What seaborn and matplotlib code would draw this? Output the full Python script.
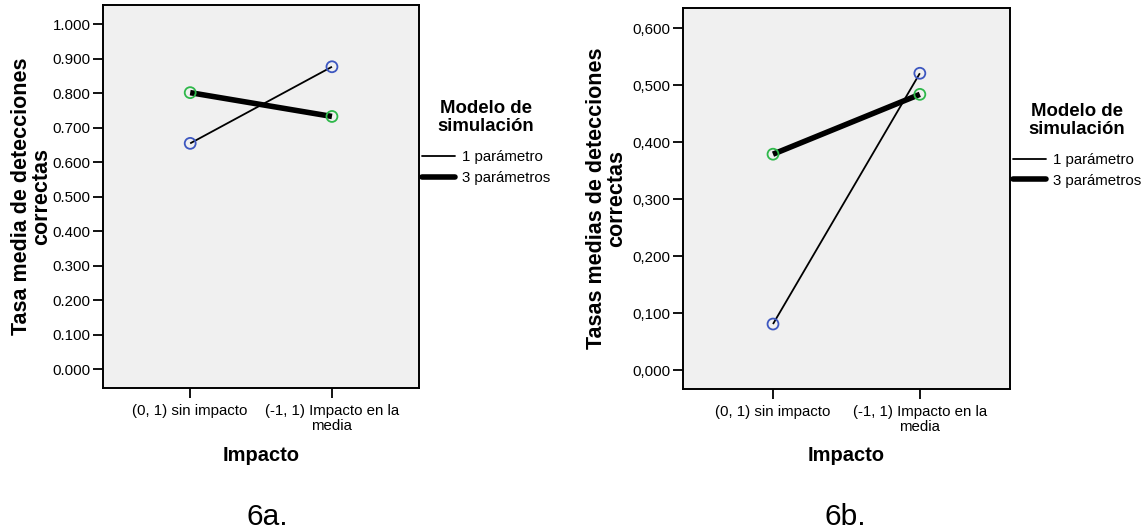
import matplotlib
matplotlib.use("Agg")
import matplotlib.pyplot as plt
from matplotlib.lines import Line2D
import numpy as np
import pandas as pd
import seaborn as sns

sns.set_theme(style="white")
plt.rcParams["font.family"] = ["Liberation Sans", "DejaVu Sans"]
plt.rcParams["text.color"] = "black"
plt.rcParams["axes.labelcolor"] = "black"
plt.rcParams["xtick.color"] = "black"
plt.rcParams["ytick.color"] = "black"

# Data
impacto_labels = ["(0, 1) sin impacto", "(-1, 1) Impacto en la\nmedia"]
modelos = ["1 parámetro", "3 parámetros"]

tasa_6a_1p = [0.655, 0.877]
tasa_6a_3p = [0.802, 0.733]

tasa_6b_1p = [0.081, 0.521]
tasa_6b_3p = [0.379, 0.484]

yticks_6a = [0.0, 0.1, 0.2, 0.3, 0.4, 0.5, 0.6, 0.7, 0.8, 0.9, 1.0]
ytick_labels_6a = ["0.000", "0.100", "0.200", "0.300", "0.400", "0.500",
                   "0.600", "0.700", "0.800", "0.900", "1.000"]
yticks_6b = [0.0, 0.1, 0.2, 0.3, 0.4, 0.5, 0.6]
ytick_labels_6b = ["0,000", "0,100", "0,200", "0,300", "0,400", "0,500", "0,600"]

line_widths = {"1 parámetro": 1.3, "3 parámetros": 4.0}
marker_colors = {"1 parámetro": "#3d57c0", "3 parámetros": "#2eb84a"}

BG = "#f0f0f0"
TICK_FS = 10.8


def draw_panel(ax, s1, s3, yticks, yticklabels, ylim, ylabel, ylabel_x):
    df = pd.DataFrame({
        "Impacto": list(range(len(impacto_labels))) * 2,
        "Tasa": s1 + s3,
        "Modelo": [modelos[0]] * len(s1) + [modelos[1]] * len(s3),
    })
    for m in modelos:
        sub = df[df["Modelo"] == m]
        sns.lineplot(data=sub, x="Impacto", y="Tasa", color="black",
                     linewidth=line_widths[m], ax=ax, legend=False,
                     solid_capstyle="butt", zorder=2)
        ax.scatter(sub["Impacto"], sub["Tasa"], s=62, facecolors="none",
                   edgecolors=marker_colors[m], linewidths=1.3, zorder=3)

    ax.set_facecolor(BG)
    ax.set_xlim(-0.615, 1.614)
    ax.set_ylim(*ylim)
    ax.set_xticks(range(len(impacto_labels)))
    ax.set_xticklabels(impacto_labels, fontsize=TICK_FS, linespacing=1.05)
    ax.set_yticks(yticks)
    ax.set_yticklabels(yticklabels, fontsize=TICK_FS)
    ax.tick_params(axis="both", direction="out", length=7, width=1.3,
                   color="black", labelcolor="black", pad=2,
                   left=True, bottom=True)
    ax.tick_params(axis="x", pad=4.5)
    for sp in ax.spines.values():
        sp.set_visible(True)
        sp.set_color("black")
        sp.set_linewidth(1.4)

    ax.set_xlabel("Impacto", fontsize=14.5, fontweight="bold")
    ax.xaxis.set_label_coords(0.5, -0.175)
    ax.xaxis.label.set_va("center")
    ax.set_ylabel(ylabel, fontsize=15.5, fontweight="bold", linespacing=0.92)
    ax.yaxis.set_label_coords(ylabel_x, 0.5)
    ax.yaxis.label.set_va("center")

    handles = [Line2D([], [], color="black", linewidth=line_widths[m]) for m in modelos]
    leg = ax.legend(handles, modelos, title="Modelo de\nsimulación",
                    loc="upper left", bbox_to_anchor=(1.0, 0.76),
                    frameon=False, fontsize=TICK_FS, title_fontsize=13.4,
                    handlelength=2.2, handletextpad=0.45, labelspacing=0.42,
                    borderaxespad=0.2, borderpad=0.0)
    leg.get_title().set_fontweight("bold")
    leg.get_title().set_multialignment("center")
    leg.get_title().set_linespacing(1.1)
    leg._legend_box.align = "center"
    leg._legend_box.sep = 11


fig = plt.figure(figsize=(11.48, 5.29), dpi=100)
ax1 = fig.add_axes([103 / 1148, 1 - 388 / 529, 316 / 1148, 383 / 529])
ax2 = fig.add_axes([682.7 / 1148, 1 - 389 / 529, 327.3 / 1148, 380.7 / 529])

draw_panel(ax1, tasa_6a_1p, tasa_6a_3p, yticks_6a, ytick_labels_6a,
           (-0.054, 1.056), "Tasa media de detecciones\ncorrectas", -0.226)
draw_panel(ax2, tasa_6b_1p, tasa_6b_3p, yticks_6b, ytick_labels_6b,
           (-0.033, 0.635), "Tasas medias de detecciones\ncorrectas", -0.233)

fig.text(267 / 1148, 1 - 517 / 529, "6a.", fontsize=21.5, ha="center", va="center")
fig.text(845 / 1148, 1 - 517 / 529, "6b.", fontsize=21.5, ha="center", va="center")

fig.savefig("out.png", dpi=100, facecolor="white")
